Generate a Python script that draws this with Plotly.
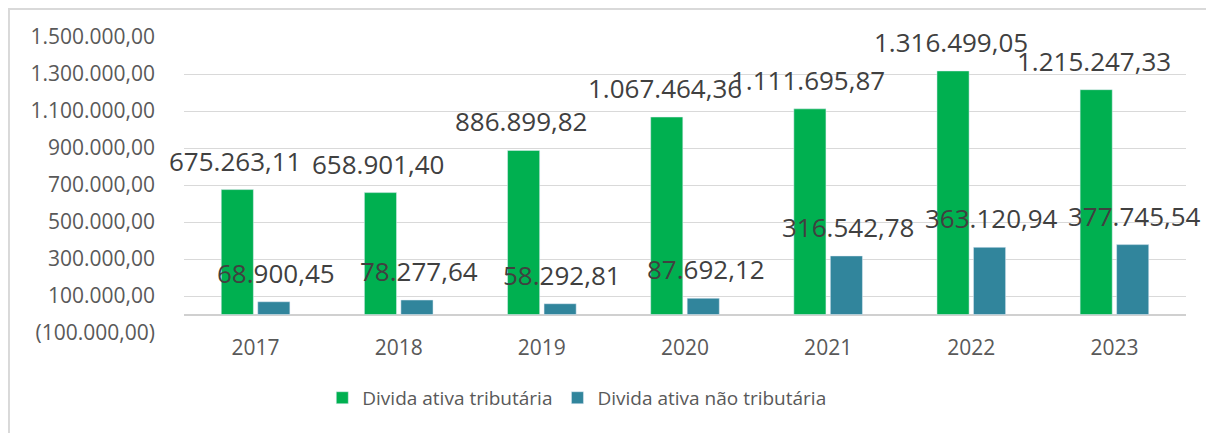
import plotly.graph_objects as go

years = ["2017", "2018", "2019", "2020", "2021", "2022", "2023"]
tributaria = [675263.11, 658901.40, 886899.82, 1067464.36, 1111695.87, 1316499.05, 1215247.33]
nao_tributaria = [68900.45, 78277.64, 58292.81, 87692.12, 316542.78, 363120.94, 377745.54]
series_names = ["Divida ativa tributária", "Divida ativa não tributária"]
tick_vals = [-100000, 100000, 300000, 500000, 700000, 900000, 1100000, 1300000, 1500000]


def br(v):
    s = f"{abs(v):,.2f}".replace(",", "X").replace(".", ",").replace("X", ".")
    return f"({s})" if v < 0 else s


GREEN = "#00B050"
TEAL = "#31859C"
FONT = "Open Sans"

fig = go.Figure()
fig.add_trace(go.Bar(x=years, y=tributaria, name=series_names[0], marker_color=GREEN))
fig.add_trace(go.Bar(x=years, y=nao_tributaria, name=series_names[1], marker_color=TEAL))

annotations = []
for vals, xs in ((tributaria, -20.5), (nao_tributaria, 20.5)):
    for i, v in enumerate(vals):
        annotations.append(dict(
            x=i, y=v, xref="x", yref="y", text=br(v), showarrow=False,
            xshift=xs, yshift=29, yanchor="middle", xanchor="center",
            font=dict(family=FONT, size=26, color="#404040"),
        ))

fig.update_layout(
    width=1206, height=425,
    margin=dict(l=176, r=28, t=29, b=100),
    paper_bgcolor="white", plot_bgcolor="white",
    barmode="group", bargap=0.49, bargroupgap=0.12,
    showlegend=True,
    legend=dict(orientation="h", x=0.392, xanchor="center", y=-0.155, yanchor="top",
                font=dict(family=FONT, size=19, color="#595959"),
                traceorder="normal", itemwidth=30),
    annotations=annotations,
    font=dict(family=FONT, color="#595959"),
    shapes=[dict(type="rect", xref="paper", yref="paper",
                 x0=-0.1747, x1=1.05, y0=-0.4, y1=1.0946,
                 line=dict(color="#D9D9D9", width=2), fillcolor="rgba(0,0,0,0)",
                 layer="below")],
)
fig.update_xaxes(type="category", range=[-0.5, len(years) - 0.5],
                 showgrid=False, showline=False, ticks="",
                 tickfont=dict(family=FONT, size=21, color="#595959"))
fig.update_yaxes(range=[-100000, 1500000], tickmode="array", tickvals=tick_vals,
                 ticktext=[br(v) for v in tick_vals],
                 showgrid=True, gridcolor="#D9D9D9", gridwidth=1.3,
                 zeroline=True, zerolinecolor="#D0D0D0", zerolinewidth=2,
                 showline=False, ticks="", ticklabelstandoff=28,
                 tickfont=dict(family=FONT, size=21, color="#595959"))

fig.write_html("out.html")
